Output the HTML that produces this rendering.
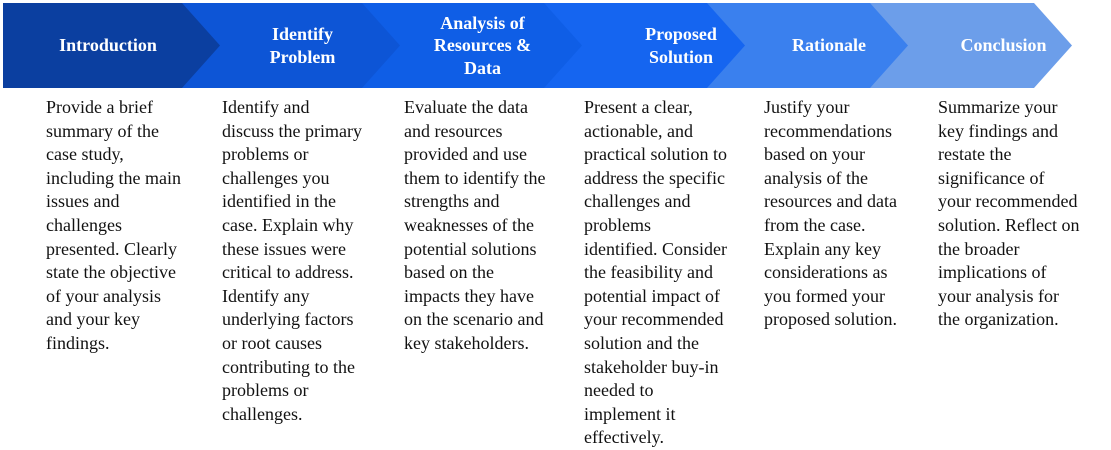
<!DOCTYPE html>
<html><head><meta charset="utf-8"><style>
body{margin:0;width:1111px;height:447px;background:#fff;position:relative;overflow:hidden;font-family:"Liberation Serif",serif}
.h{position:absolute;top:3px;height:85px;display:flex;align-items:center;justify-content:center;text-align:center;color:#fff;font-weight:bold;font-size:18px;line-height:22.5px}
.c{position:absolute;top:96px;font-size:18px;line-height:23.6px;color:#111;white-space:nowrap}
</style></head><body>
<svg width="1111" height="447" style="position:absolute;left:0;top:0">
<polygon points="3,3 1034,3 1072,45.5 1034,88 3,88" fill="#6C9EEA"/>
<polygon points="3,3 870,3 908,45.5 870,88 3,88" fill="#3A80EE"/>
<polygon points="3,3 707,3 745,45.5 707,88 3,88" fill="#1565F0"/>
<polygon points="3,3 544,3 582,45.5 544,88 3,88" fill="#0F5EE6"/>
<polygon points="3,3 362,3 400,45.5 362,88 3,88" fill="#0D55D6"/>
<polygon points="3,3 182,3 220,45.5 182,88 3,88" fill="#0B3FA0"/>
</svg>
<div class="h" style="left:18px;width:180px">Introduction</div>
<div class="h" style="left:215px;width:175px">Identify<br>Problem</div>
<div class="h" style="left:395px;width:175px">Analysis of<br>Resources &amp;<br>Data</div>
<div class="h" style="left:591px;width:180px">Proposed<br>Solution</div>
<div class="h" style="left:744px;width:170px">Rationale</div>
<div class="h" style="left:916px;width:175px">Conclusion</div>
<div class="c" style="left:46px">Provide a brief<br>summary of the<br>case study,<br>including the main<br>issues and<br>challenges<br>presented. Clearly<br>state the objective<br>of your analysis<br>and your key<br>findings.</div>
<div class="c" style="left:222px">Identify and<br>discuss the primary<br>problems or<br>challenges you<br>identified in the<br>case. Explain why<br>these issues were<br>critical to address.<br>Identify any<br>underlying factors<br>or root causes<br>contributing to the<br>problems or<br>challenges.</div>
<div class="c" style="left:404px">Evaluate the data<br>and resources<br>provided and use<br>them to identify the<br>strengths and<br>weaknesses of the<br>potential solutions<br>based on the<br>impacts they have<br>on the scenario and<br>key stakeholders.</div>
<div class="c" style="left:584px">Present a clear,<br>actionable, and<br>practical solution to<br>address the specific<br>challenges and<br>problems<br>identified. Consider<br>the feasibility and<br>potential impact of<br>your recommended<br>solution and the<br>stakeholder buy-in<br>needed to<br>implement it<br>effectively.</div>
<div class="c" style="left:764px">Justify your<br>recommendations<br>based on your<br>analysis of the<br>resources and data<br>from the case.<br>Explain any key<br>considerations as<br>you formed your<br>proposed solution.</div>
<div class="c" style="left:938px">Summarize your<br>key findings and<br>restate the<br>significance of<br>your recommended<br>solution. Reflect on<br>the broader<br>implications of<br>your analysis for<br>the organization.</div>
</body></html>
